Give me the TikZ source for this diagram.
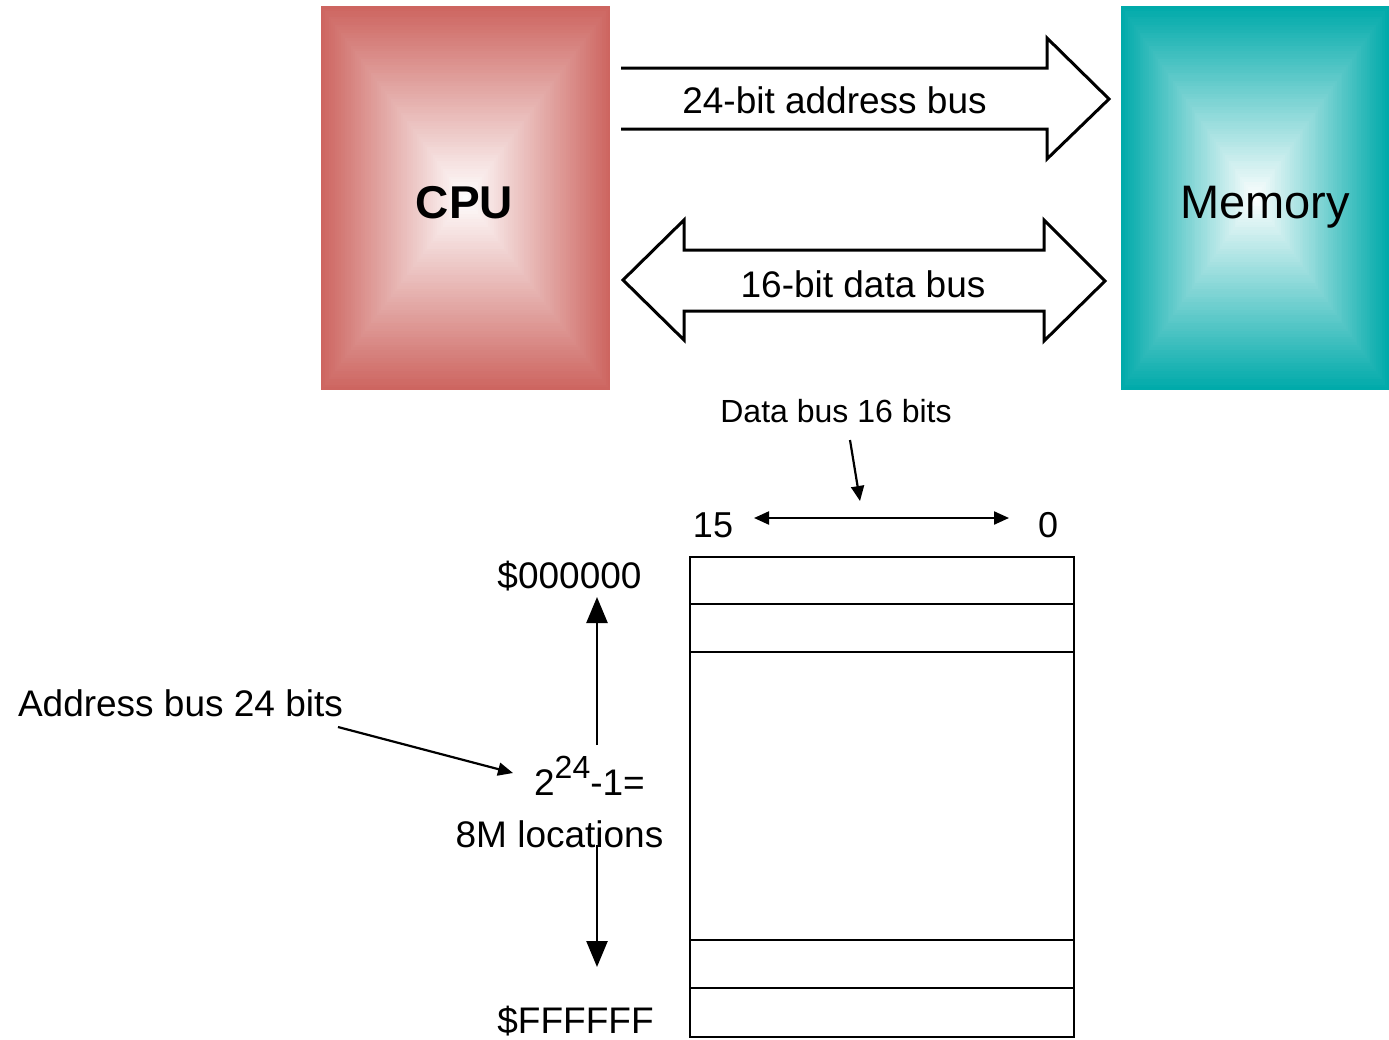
\documentclass[tikz,border=0pt]{standalone}
\usepackage{fontspec}
\setmainfont{Liberation Sans}
\usetikzlibrary{arrows.meta,calc}
\definecolor{cpuface}{RGB}{205,101,96}
\definecolor{memface}{RGB}{0,170,170}
\tikzset{
  % rectangular gradient: edge colour at the border fading to white in the middle,
  % built from nested rectangles of the same proportions
  pyramid/.style={path picture={
    \foreach \i in {0,...,71}{
      \pgfmathsetmacro\frac{1-\i/72}
      \pgfmathtruncatemacro\pct{round(100*\frac)}
      \fill[#1!\pct!white]
        ($(path picture bounding box.center)!\frac!(path picture bounding box.north west)$)
        rectangle
        ($(path picture bounding box.center)!\frac!(path picture bounding box.south east)$);
    }
  }},
  unitbox/.style={pyramid=#1, minimum width=289pt, minimum height=384pt, inner sep=0pt},
  busline/.style={line width=3pt, line join=miter},
  lbl/.style={anchor=base, inner sep=0pt, font=\fontsize{37}{40}\selectfont},
  memline/.style={line width=2.5pt},
  thinarrow/.style={line width=2.2pt, -{Triangle[length=15pt,width=13pt]}},
  bigarrow/.style={line width=2.5pt, -{Triangle[length=26pt,width=21pt]}},
}
\begin{document}
\begin{tikzpicture}[x=1pt, y=-1pt]
\useasboundingbox (0,0) rectangle (1389,1039);

% processor and memory blocks
\node[unitbox=cpuface] (cpu) at (465.5,198) {};
\node[unitbox=memface, minimum width=268pt] (mem) at (1255,198) {};
\node[lbl, font=\fontsize{46}{50}\selectfont\bfseries] (cpuname) at (464.5,218) {CPU};
\node[lbl, font=\fontsize{47}{50}\selectfont] (memname) at (1265,218) {Memory};

% address bus: one-way wide arrow, open at the tail
\draw[busline] (621,68) -- (1047,68) -- (1047,38) -- (1109,99) -- (1047,159)
  -- (1047,129) -- (621,129);
\node[lbl] (abus) at (834.5,113) {24-bit address bus};

% data bus: two-way wide arrow
\draw[busline] (623,280) -- (684,220) -- (684,250) -- (1044,250) -- (1044,220)
  -- (1105,281) -- (1044,341) -- (1044,311) -- (684,311) -- (684,340) -- cycle;
\node[lbl] (dbus) at (863,297) {16-bit data bus};

% memory map
\node[draw, memline, minimum width=384pt, minimum height=480pt, inner sep=0pt]
  (map) at (882,797) {};
\draw[memline] (690,604) -- (1074,604);
\draw[memline] (690,652) -- (1074,652);
\draw[memline] (690,940) -- (1074,940);
\draw[memline] (690,988) -- (1074,988);

% word width
\node[lbl, font=\fontsize{32}{36}\selectfont] (dwidth) at (836,422) {Data bus 16 bits};
\node[lbl, font=\fontsize{36}{40}\selectfont] (b15) at (713,537) {15};
\node[lbl, font=\fontsize{36}{40}\selectfont] (b0) at (1048,537) {0};
\coordinate (dwfrom) at (850,440);
\coordinate (dwto) at (860,501);
\draw[thinarrow] (dwfrom) -- (dwto);
\coordinate (wl) at (754,518);
\coordinate (wr) at (1009,518);
\draw[thinarrow, {Triangle[length=15pt,width=13pt]}-{Triangle[length=15pt,width=13pt]}] (wl) -- (wr);

% address range
\node[lbl] (lo) at (569.5,588) {\$000000};
\node[lbl] (hi) at (575.5,1033) {\$FFFFFF};
\node[lbl] (count) at (589.5,795)
  {2\raisebox{17pt}{\fontsize{32}{32}\selectfont 24}-1=};
\node[lbl] (locs) at (559.5,847) {8M locations};
\node[lbl] (awidth) at (180.5,716) {Address bus 24 bits};
\coordinate (upfrom) at (597,745);
\coordinate (upto) at (597,597);
\coordinate (dnfrom) at (597,845);
\coordinate (dnto) at (597,967);
\draw[bigarrow] (upfrom) -- (upto);
\draw[bigarrow] (dnfrom) -- (dnto);
\coordinate (awfrom) at (338,727);
\coordinate (awto) at (513,773);
\draw[thinarrow] (awfrom) -- (awto);
\end{tikzpicture}
\end{document}
